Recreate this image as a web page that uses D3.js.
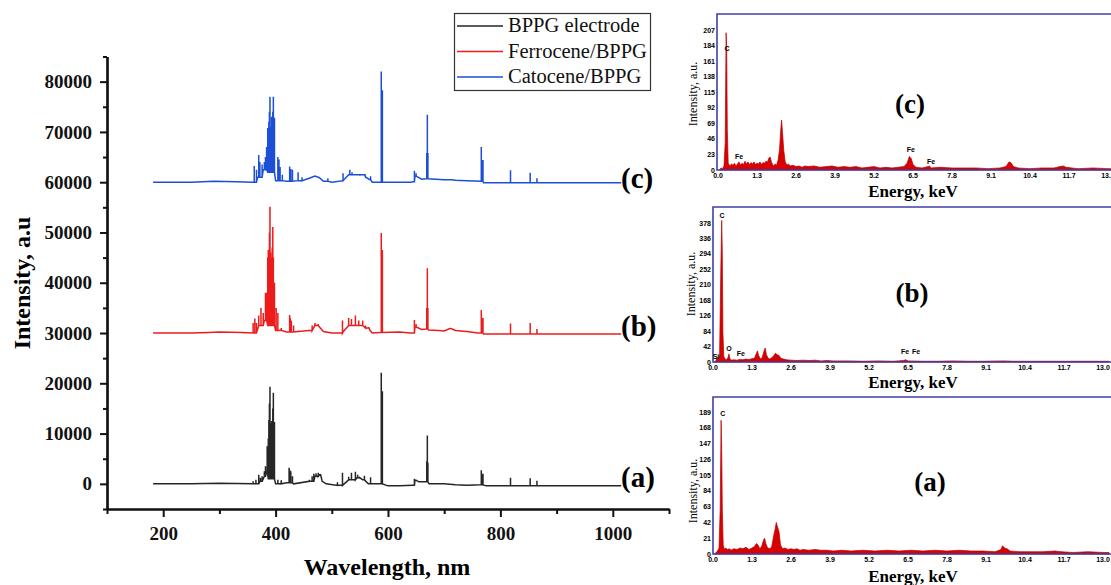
<!DOCTYPE html>
<html>
<head>
<meta charset="utf-8">
<script src="https://cdnjs.cloudflare.com/ajax/libs/d3/7.8.5/d3.min.js"></script>
<style>
body { margin: 0; background: #fff; }
svg text { font-family: "Liberation Serif", "Times New Roman", serif; }
.edx text.tick-lbl { font-family: "Liberation Sans Narrow", "Liberation Sans", Arial, sans-serif; font-weight: bold; font-size: 7px; }
</style>
</head>
<body>
<svg id="chart" width="1111" height="585"></svg>
<script>
// ---- LIBS spectra (left plot) ----
var seriesNames = ["BPPG electrode", "Ferrocene/BPPG", "Catocene/BPPG"];
var seriesColors = ["#262626", "#ec1c1c", "#1c4fd6"];
var seriesOffsets = [0, 30000, 60000];
var seriesTags = ["(a)", "(b)", "(c)"];
var wavelengthTicks = [200, 400, 600, 800, 1000];
var wavelengthMinor = [100, 300, 500, 700, 900, 1100];
var intensityTicks = [0, 10000, 20000, 30000, 40000, 50000, 60000, 70000, 80000];
var intensityMinor = [-5000, 5000, 15000, 25000, 35000, 45000, 55000, 65000, 75000, 85000];

// baseline [wavelength, intensity] and spikes [wavelength, top] per spectrum (relative to offset)
var baselineA = [[182,0],[250,0],[300,100],[360,0],[372,500],[380,1500],[384,2500],[387,1000],[400,0],[420,200],[432,0],[460,500],[470,1500],[478,1800],[483,500],[490,0],[510,-300],[520,-200],[530,800],[545,1200],[555,800],[565,0],[585,0],[600,-400],[620,-400],[645,-300],[648,700],[655,400],[668,400],[673,0],[700,0],[720,-200],[740,-300],[765,-200],[775,-400],[850,-400],[1015,-400]];
var spikesA = [[360,500],[365,800],[370,1800],[373,1200],[376,1500],[380,2500],[382,3500],[385,7500],[387,9000],[388,12700],[389,16000],[390,19300],[391,12000],[393,12500],[395,15000],[396,18100],[397,12300],[398,12300],[404,800],[410,700],[424,3200],[425,2800],[427,2500],[430,1500],[460,800],[465,1500],[468,2000],[472,2100],[476,2200],[480,1500],[510,300],[519,2200],[530,1400],[535,2200],[542,2400],[546,1800],[550,1000],[558,1600],[569,1300],[588,22100],[589,18400],[590,18400],[647,1000],[650,700],[669,4500],[670,9600],[671,4200],[766,2700],[768,2000],[769,2000],[818,1200],[853,1100],[865,600]];

var baselineB = [[182,0],[250,0],[280,100],[300,200],[340,100],[360,0],[370,1500],[380,2500],[386,1500],[400,500],[420,200],[440,300],[460,500],[470,1500],[478,1200],[485,300],[500,0],[520,200],[530,1500],[560,1000],[568,500],[572,0],[585,100],[620,200],[640,0],[645,0],[648,1200],[660,700],[668,800],[672,600],[690,500],[700,400],[710,900],[720,500],[740,300],[760,0],[770,-200],[1015,-200]];
var spikesB = [[360,2000],[363,2900],[366,2000],[370,3500],[374,5000],[378,4000],[382,8000],[384,8000],[386,15000],[387,16500],[388,16500],[389,20000],[390,25100],[391,16000],[393,15000],[394,17000],[395,21100],[396,15000],[398,10000],[401,5000],[404,4000],[410,1000],[425,3600],[426,3000],[428,2500],[432,1500],[440,500],[465,1500],[470,2000],[476,1800],[519,2500],[530,3000],[535,2800],[542,3500],[548,2500],[555,2500],[560,1500],[566,1200],[588,19900],[589,16500],[590,16500],[647,2600],[650,1800],[669,5000],[670,12900],[671,5000],[712,1000],[766,4600],[768,3000],[769,3000],[818,1900],[853,2000],[865,800]];

var baselineC = [[182,0],[250,0],[290,200],[330,100],[360,0],[368,1000],[378,2500],[386,2000],[400,300],[420,200],[440,300],[460,800],[470,1200],[478,900],[485,200],[500,0],[520,300],[530,1500],[560,1000],[568,500],[572,0],[640,0],[645,100],[648,1200],[660,600],[668,700],[700,500],[720,400],[740,300],[766,200],[770,-100],[1015,-100]];
var spikesC = [[362,3200],[366,2500],[370,5400],[372,4000],[376,3500],[380,4000],[382,5000],[384,7000],[386,10800],[387,8000],[388,12000],[389,14000],[390,17000],[391,11000],[393,13000],[394,12000],[395,14000],[396,17000],[397,12800],[398,12800],[404,5000],[406,4500],[408,3000],[412,1500],[425,3100],[427,2600],[430,2500],[440,2000],[447,1000],[493,800],[520,1800],[532,2500],[536,2000],[541,1600],[550,1300],[559,1200],[569,1200],[588,22000],[589,18300],[590,18300],[647,2300],[650,1800],[669,5800],[670,13400],[671,5800],[714,500],[766,7000],[768,4400],[769,4400],[818,2400],[853,1900],[865,800]];

var baselines = [baselineA, baselineB, baselineC];
var spikes = [spikesA, spikesB, spikesC];

// ---- EDX spectra (right panels), [energy keV, counts] ----
var energyTicks = [0.0, 1.3, 2.6, 3.9, 5.2, 6.5, 7.8, 9.1, 10.4, 11.7, 13.0];
var countTicksA = [0, 21, 42, 63, 84, 105, 126, 147, 168, 189];
var countTicksB = [0, 42, 84, 126, 168, 210, 252, 294, 336, 378];
var countTicksC = [0, 23, 46, 69, 92, 115, 138, 161, 184, 207];

var edxA = [[0.05,0],[0.1,2],[0.15,4],[0.2,8],[0.24,60],[0.27,178],[0.29,140],[0.31,60],[0.34,12],[0.38,6],[0.42,8],[0.48,6],[0.55,7],[0.6,5],[0.7,7],[0.8,6],[0.9,8],[1.0,7],[1.1,9],[1.2,6],[1.3,8],[1.38,10],[1.45,14],[1.5,12],[1.56,7],[1.62,10],[1.68,18],[1.72,21],[1.76,14],[1.82,8],[1.9,7],[1.96,10],[2.02,24],[2.07,33],[2.11,42],[2.15,36],[2.2,30],[2.25,12],[2.32,7],[2.4,8],[2.5,6],[2.6,7],[2.7,6],[2.8,7],[2.9,5],[3.0,6],[3.2,5],[3.4,6],[3.6,5],[3.8,5],[4.0,4],[4.3,5],[4.6,4],[5.0,5],[5.4,4],[5.8,5],[6.2,4],[6.6,5],[7.0,4],[7.4,5],[7.8,4],[8.2,5],[8.6,4],[9.0,4],[9.4,3],[9.6,6],[9.65,11],[9.72,8],[9.8,7],[9.9,4],[10.2,3],[10.6,3],[11.0,3],[11.4,4],[11.6,3],[12.0,2],[12.5,3],[13.0,2],[13.2,2]];
var edxB = [[0.05,0],[0.1,4],[0.15,12],[0.18,8],[0.22,20],[0.26,250],[0.29,385],[0.31,300],[0.33,80],[0.36,15],[0.4,8],[0.45,6],[0.5,12],[0.53,22],[0.56,10],[0.6,5],[0.7,6],[0.8,5],[0.9,7],[1.0,6],[1.1,8],[1.2,7],[1.3,9],[1.38,10],[1.44,22],[1.48,30],[1.52,18],[1.58,8],[1.64,12],[1.7,30],[1.74,38],[1.78,20],[1.84,10],[1.9,8],[1.96,12],[2.02,16],[2.08,24],[2.14,20],[2.2,18],[2.26,10],[2.35,8],[2.45,6],[2.6,5],[2.8,4],[3.0,5],[3.2,4],[3.4,5],[3.6,3],[3.8,4],[4.0,3],[4.5,3],[5.0,2],[5.5,3],[6.0,2],[6.35,4],[6.42,6],[6.5,3],[7.0,2],[7.5,2],[8.0,3],[8.5,2],[9.0,2],[9.7,3],[10.0,2],[10.5,2],[11.0,2],[11.5,2],[12.0,2],[12.5,2],[13.0,2],[13.2,2]];
var edxC = [[0.05,0],[0.1,3],[0.15,2],[0.2,6],[0.24,40],[0.27,203],[0.29,180],[0.31,60],[0.34,10],[0.4,6],[0.45,9],[0.5,7],[0.55,10],[0.6,6],[0.65,9],[0.7,12],[0.75,7],[0.8,10],[0.85,8],[0.9,13],[0.95,9],[1.0,12],[1.05,8],[1.1,11],[1.15,9],[1.2,12],[1.25,8],[1.3,10],[1.35,9],[1.4,12],[1.45,8],[1.5,11],[1.55,10],[1.6,13],[1.65,12],[1.7,18],[1.74,19],[1.78,12],[1.82,8],[1.86,6],[1.9,9],[1.95,7],[2.0,14],[2.05,30],[2.09,58],[2.12,74],[2.15,56],[2.19,30],[2.24,12],[2.3,7],[2.35,9],[2.4,6],[2.5,7],[2.6,5],[2.7,6],[2.8,4],[2.9,6],[3.0,5],[3.2,6],[3.4,4],[3.6,5],[3.8,6],[4.0,4],[4.2,5],[4.4,4],[4.6,5],[4.8,3],[5.0,4],[5.2,5],[5.4,3],[5.6,4],[5.8,3],[6.0,4],[6.2,5],[6.3,10],[6.38,20],[6.44,17],[6.5,8],[6.6,4],[6.8,3],[7.0,5],[7.05,6],[7.1,3],[7.4,4],[7.8,3],[8.2,3],[8.6,3],[9.0,2],[9.4,3],[9.6,5],[9.7,12],[9.76,11],[9.85,5],[10.0,3],[10.4,2],[10.8,3],[11.2,3],[11.4,5],[11.5,6],[11.6,4],[12.0,2],[12.5,3],[13.0,2],[13.2,2]];

// element labels [text, energy, counts]
var edxLabelsA = [["C", 0.33, 184]];
var edxLabelsB = [["C", 0.3, 392], ["Si", 0.1, 8], ["O", 0.53, 30], ["Fe", 0.93, 16], ["Fe", 6.4, 22], ["Fe", 6.77, 22]];
var edxLabelsC = [["C", 0.3, 176], ["Fe", 0.7, 16], ["Fe", 6.43, 27], ["Fe", 7.1, 9]];

var svg = d3.select("#chart");
svg.append("rect").attr("width", 1111).attr("height", 585).attr("fill", "#fff");

drawLibs();
drawEdx({ data: edxC, counts: countTicksC, labels: edxLabelsC, tag: "(c)", x0: 718, boxLeft: 717, boxTop: 14, axisY: 170, topTickY: 30,
          tagX: 910, tagY: 113, ylabX: 693, ylabY: 94, xlabY: 197 });
drawEdx({ data: edxB, counts: countTicksB, labels: edxLabelsB, tag: "(b)", x0: 713, boxLeft: 713, boxTop: 207, axisY: 362, topTickY: 223,
          tagX: 912, tagY: 302, ylabX: 691, ylabY: 284, xlabY: 388 });
drawEdx({ data: edxA, counts: countTicksA, labels: edxLabelsA, tag: "(a)", x0: 713, boxLeft: 713, boxTop: 397, axisY: 554, topTickY: 412,
          tagX: 930, tagY: 491, ylabX: 693, ylabY: 491, xlabY: 582 });

function spectrumPoints(baseline, spk) {
    // merge baseline points and spikes by wavelength, spikes rise from current baseline level
    var events = baseline.map(function(p) { return { wl: p[0], v: p[1], spike: false }; })
        .concat(spk.map(function(s) { return { wl: s[0], v: s[1], spike: true }; }))
        .sort(function(a, b) { return a.wl - b.wl || (a.spike ? 1 : -1); });
    var pts = [];
    var base = baseline[0][1];
    events.forEach(function(e) {
        if (e.spike) {
            pts.push([e.wl, base], [e.wl, e.v], [e.wl, base]);
        } else {
            base = e.v;
            pts.push([e.wl, e.v]);
        }
    });
    return pts;
}

function drawLibs() {
    var x = d3.scaleLinear().domain([100, 1100]).range([107, 669]);
    var y = d3.scaleLinear().domain([-5000, 85000]).range([509, 56.5]);
    var g = svg.append("g");

    // spectra
    baselines.forEach(function(bl, i) {
        var off = seriesOffsets[i];
        var line = d3.line().x(function(d) { return x(d[0]); }).y(function(d) { return y(d[1] + off); });
        g.append("path")
            .datum(spectrumPoints(bl, spikes[i]))
            .attr("d", line)
            .attr("fill", "none")
            .attr("stroke", seriesColors[i])
            .attr("stroke-width", 1.5)
            .attr("stroke-linejoin", "miter");
    });

    // axes
    var fmt = d3.format("d");
    g.append("g").attr("transform", "translate(0,509)")
        .call(d3.axisBottom(x).tickValues(wavelengthTicks).tickFormat(fmt).tickSize(8).tickPadding(10).tickSizeOuter(0));
    g.append("g").attr("transform", "translate(0,509)")
        .call(d3.axisBottom(x).tickValues(wavelengthMinor).tickSize(5).tickFormat("").tickSizeOuter(0));
    g.append("g").attr("transform", "translate(107,0)")
        .call(d3.axisLeft(y).tickValues(intensityTicks).tickFormat(fmt).tickSize(7).tickPadding(8).tickSizeOuter(0));
    g.append("g").attr("transform", "translate(107,0)")
        .call(d3.axisLeft(y).tickValues(intensityMinor).tickSize(4).tickFormat("").tickSizeOuter(0));
    g.selectAll(".domain").attr("stroke", "#111").attr("stroke-width", 2.2);
    g.selectAll(".tick line").attr("stroke", "#111").attr("stroke-width", 2);
    g.selectAll(".tick text")
        .attr("font-family", "Liberation Serif")
        .attr("font-weight", "bold")
        .attr("font-size", 19)
        .attr("fill", "#111");

    // axis titles
    g.append("text").attr("x", 387).attr("y", 575).attr("text-anchor", "middle")
        .attr("font-weight", "bold").attr("font-size", 24).text("Wavelength, nm");
    g.append("text").attr("transform", "translate(30,283) rotate(-90)").attr("text-anchor", "middle")
        .attr("font-weight", "bold").attr("font-size", 24).text("Intensity, a.u");

    // series tags
    var tagY = [487, 336, 188];
    seriesTags.forEach(function(t, i) {
        g.append("text").attr("x", 621).attr("y", tagY[i])
            .attr("font-weight", "bold").attr("font-size", 29).text(t);
    });

    // legend
    var lg = g.append("g");
    lg.append("rect").attr("x", 454.5).attr("y", 13.5).attr("width", 196).attr("height", 77)
        .attr("fill", "#fff").attr("stroke", "#333").attr("stroke-width", 1.2);
    seriesNames.forEach(function(n, i) {
        var ly = 26 + i * 25.5;
        lg.append("line").attr("x1", 457).attr("x2", 503).attr("y1", ly).attr("y2", ly)
            .attr("stroke", seriesColors[i]).attr("stroke-width", 1.3);
        lg.append("text").attr("x", 508).attr("y", ly + 6).attr("font-size", 20.5).attr("fill", "#111").text(n);
    });
}

function drawEdx(cfg) {
    var x = d3.scaleLinear().domain([0, 13]).range([cfg.x0, cfg.x0 + 390]);
    var y = d3.scaleLinear().domain([0, cfg.counts[cfg.counts.length - 1]]).range([cfg.axisY, cfg.topTickY]);
    var g = svg.append("g").attr("class", "edx");

    var area = d3.area()
        .x(function(d) { return x(d[0]); })
        .y0(cfg.axisY)
        .y1(function(d) { return y(d[1]); });
    g.append("path").datum(cfg.data).attr("d", area)
        .attr("fill", "#d80000").attr("stroke", "#b80000").attr("stroke-width", 0.7);

    // panel frame (right side runs off the page)
    g.append("path")
        .attr("d", "M1120," + cfg.boxTop + "H" + cfg.boxLeft + "V" + cfg.axisY + "H1120")
        .attr("fill", "none").attr("stroke", "#3f3fa8").attr("stroke-width", 1.6);

    g.selectAll("text.xt").data(energyTicks).enter().append("text")
        .attr("class", "tick-lbl")
        .attr("x", function(d) { return x(d); })
        .attr("y", cfg.axisY + 8)
        .attr("text-anchor", "middle")
        .text(function(d) { return d.toFixed(1); });
    g.selectAll("text.yt").data(cfg.counts).enter().append("text")
        .attr("class", "tick-lbl")
        .attr("x", cfg.boxLeft - 2)
        .attr("y", function(d) { return y(d) + 2.5; })
        .attr("text-anchor", "end")
        .text(function(d) { return d; });

    cfg.labels.forEach(function(l) {
        g.append("text").attr("class", "tick-lbl")
            .attr("x", x(l[1])).attr("y", y(l[2]))
            .attr("text-anchor", "middle").text(l[0]);
    });

    g.append("text").attr("x", cfg.tagX).attr("y", cfg.tagY).attr("text-anchor", "middle")
        .attr("font-weight", "bold").attr("font-size", 27).text(cfg.tag);
    g.append("text").attr("x", 913).attr("y", cfg.xlabY).attr("text-anchor", "middle")
        .attr("font-weight", "bold").attr("font-size", 17).text("Energy, keV");
    g.append("text").attr("transform", "translate(" + (cfg.ylabX + 4) + "," + cfg.ylabY + ") rotate(-90)")
        .attr("text-anchor", "middle").attr("font-size", 12).text("Intensity, a.u.");
}
</script>
</body>
</html>
